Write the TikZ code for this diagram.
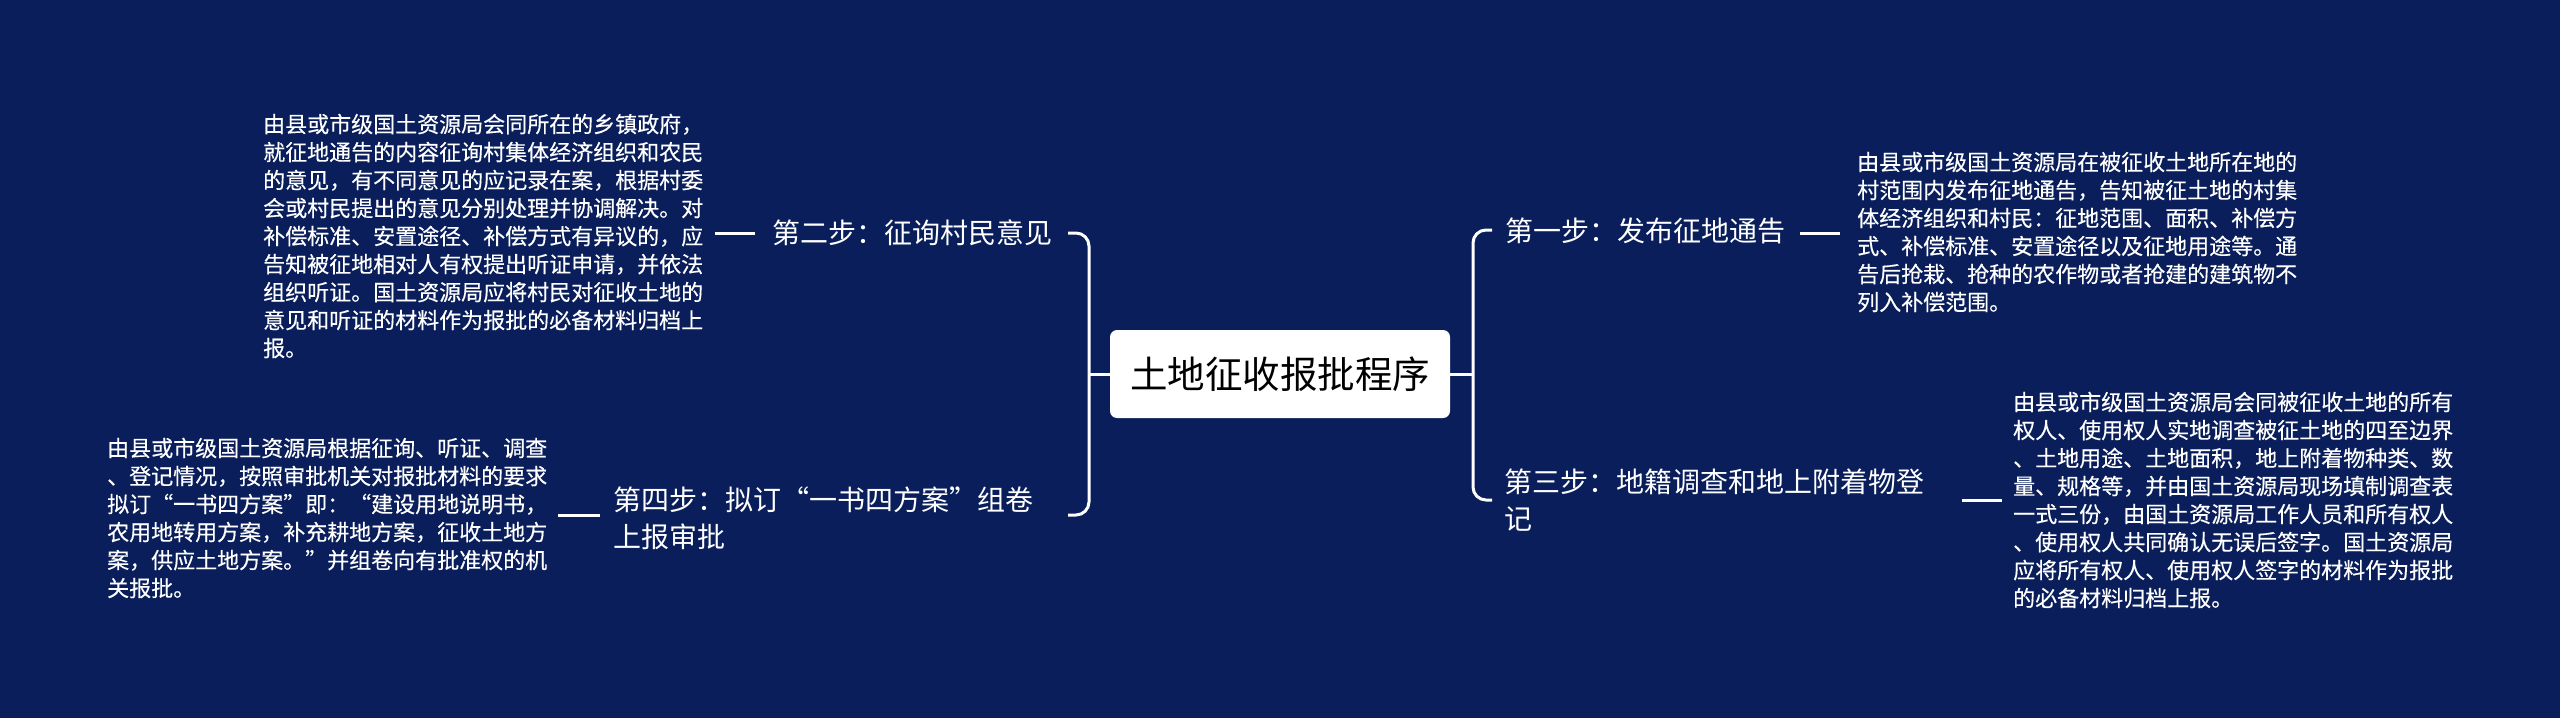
\documentclass[tikz,border=0pt]{standalone}
\usepackage{fontspec}
\newfontfamily\cjk{Noto Sans CJK SC}
\newfontfamily\cjkd[FakeBold=0.35]{Noto Sans CJK SC}
\definecolor{bg}{RGB}{9,30,90}
\definecolor{ink}{RGB}{255,255,255}
\tikzset{
  conn/.style={draw=ink, line width=3pt},
  desc/.style={inner sep=0pt, text=ink, align=left, font=\cjkd\fontsize{22}{28}\selectfont},
  stepnode/.style={inner sep=0pt, text=ink, align=left, font=\cjk\fontsize{28}{37}\selectfont},
  rootnode/.style={fill=white, rounded corners=7pt, minimum width=340pt, minimum height=88pt, inner sep=0pt, text=black, font=\cjk\fontsize{37.5}{40}\selectfont}
}
\begin{document}
\begin{tikzpicture}[x=1pt,y=-1pt]
\fill[bg] (0,0) rectangle (2560,718);
\useasboundingbox (0,0) rectangle (2560,718);

\node[rootnode] (root) at (1280,374) {土地征收报批程序};

\node[stepnode, anchor=west] (s1) at (1505,231) {第一步：发布征地通告};
\node[stepnode, anchor=west] (s2) at (772,233) {第二步：征询村民意见};
\node[stepnode, anchor=west] (s3) at (1504,500) {第三步：地籍调查和地上附着物登\\记};
\node[stepnode, anchor=west] (s4) at (613,518) {第四步：拟订“一书四方案”组卷\\上报审批};

\node[desc, anchor=west] (d1) at (1857,232) {由县或市级国土资源局在被征收土地所在地的\\
村范围内发布征地通告，告知被征土地的村集\\
体经济组织和村民：征地范围、面积、补偿方\\
式、补偿标准、安置途径以及征地用途等。通\\
告后抢栽、抢种的农作物或者抢建的建筑物不\\
列入补偿范围。};

\node[desc, anchor=west] (d2) at (263,236) {由县或市级国土资源局会同所在的乡镇政府，\\
就征地通告的内容征询村集体经济组织和农民\\
的意见，有不同意见的应记录在案，根据村委\\
会或村民提出的意见分别处理并协调解决。对\\
补偿标准、安置途径、补偿方式有异议的，应\\
告知被征地相对人有权提出听证申请，并依法\\
组织听证。国土资源局应将村民对征收土地的\\
意见和听证的材料作为报批的必备材料归档上\\
报。};

\node[desc, anchor=west] (d3) at (2013,500) {由县或市级国土资源局会同被征收土地的所有\\
权人、使用权人实地调查被征土地的四至边界\\
、土地用途、土地面积，地上附着物种类、数\\
量、规格等，并由国土资源局现场填制调查表\\
一式三份，由国土资源局工作人员和所有权人\\
、使用权人共同确认无误后签字。国土资源局\\
应将所有权人、使用权人签字的材料作为报批\\
的必备材料归档上报。};

\node[desc, anchor=west] (d4) at (107,518) {由县或市级国土资源局根据征询、听证、调查\\
、登记情况，按照审批机关对报批材料的要求\\
拟订“一书四方案”即：“建设用地说明书，\\
农用地转用方案，补充耕地方案，征收土地方\\
案，供应土地方案。”并组卷向有批准权的机\\
关报批。};

% left bracket
\coordinate (lb) at (1089,374);
\draw[conn] (root.west) -- (lb);
\draw[conn, rounded corners=13pt] (1068,233) -| (lb) |- (1068,515);
% right bracket
\coordinate (rb) at (1473,374);
\draw[conn] (root.east) -- (rb);
\draw[conn, rounded corners=13pt] (1492,230) -| (rb) |- (1492,500);

% dashes to descriptions
\draw[conn] ([xshift=15pt]s1.east |- 0,233) -- ([xshift=55pt]s1.east |- 0,233);
\draw[conn] (715,233) -- (755,233);
\draw[conn] (1962,500) -- (2002,500);
\draw[conn] (558,515) -- (600,515);
\end{tikzpicture}
\end{document}
